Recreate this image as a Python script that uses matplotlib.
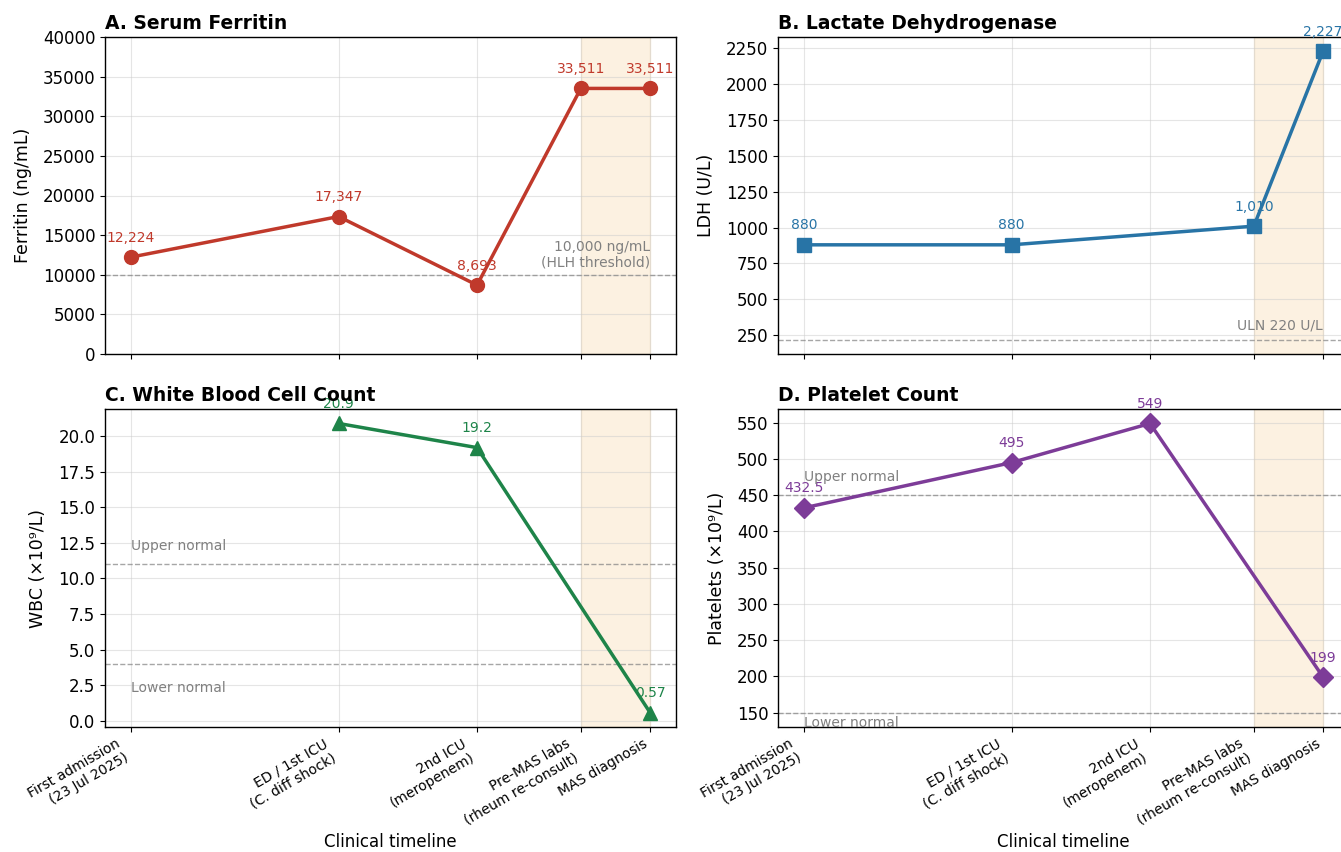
import numpy as np
import matplotlib
matplotlib.use("Agg")
import matplotlib.pyplot as plt

# timeline (position on x axis + labels)
x_pos = [0, 3, 5, 6.5, 7.5]
x_labels = ["First admission\n(23 Jul 2025)", "ED / 1st ICU\n(C. diff shock)",
            "2nd ICU\n(meropenem)", "Pre-MAS labs\n(rheum re-consult)", "MAS diagnosis"]

# lab values (nan = not measured)
ferritin = [12224, 17347, 8693, 33511, 33511]
ldh = [880, 880, np.nan, 1010, 2227]
wbc = [np.nan, 20.9, 19.2, np.nan, 0.57]
platelets = [432.5, 495, 549, np.nan, 199]

plt.rcParams["font.family"] = "DejaVu Sans"
plt.rcParams["axes.linewidth"] = 1.0

fig = plt.figure(figsize=(13.41, 8.52), dpi=100)
W, H = 1341, 852
def box(l, t, r, b):
    return [l / W, (H - b) / H, (r - l) / W, (b - t) / H]

axA = fig.add_axes(box(105, 37, 676, 354))
axB = fig.add_axes(box(778, 37, 1349, 354))
axC = fig.add_axes(box(105, 409, 676, 727), sharex=axA)
axD = fig.add_axes(box(778, 409, 1349, 727), sharex=axB)


def fmt(v):
    if float(v).is_integer():
        return f"{int(v):,}"
    return f"{v:g}"


def panel(ax, vals, color, marker, title, ylabel, ms=10):
    xs = np.array(x_pos, dtype=float)
    ys = np.array(vals, dtype=float)
    ok = ~np.isnan(ys)
    ax.axvspan(6.5, 7.5, color="#f0a030", alpha=0.14, zorder=0)
    ax.plot(xs[ok], ys[ok], color=color, marker=marker, lw=2.5, ms=ms, zorder=3)
    for x, y in zip(xs[ok], ys[ok]):
        ax.annotate(fmt(y), (x, y), xytext=(0, 9), textcoords="offset points",
                    ha="center", va="bottom", fontsize=10, color=color)
    ax.set_title(title, loc="left", fontsize=13.5, fontweight="bold")
    ax.set_ylabel(ylabel, fontsize=12.5, labelpad=8)
    ax.grid(True, color="#cccccc", alpha=0.5, lw=0.8)
    ax.set_axisbelow(True)
    ax.tick_params(axis="y", labelsize=12)
    ax.set_xticks(x_pos)


def ref(ax, y):
    ax.axhline(y, color="gray", ls="--", lw=1, alpha=0.7, zorder=1)


# A. ferritin
panel(axA, ferritin, "#c0392b", "o", "A. Serum Ferritin", "Ferritin (ng/mL)")
ref(axA, 10000)
axA.set_ylim(0, 40000)
axA.text(7.5, 10600, "10,000 ng/mL\n(HLH threshold)", ha="right", va="bottom",
         fontsize=10, color="gray")

# B. LDH
panel(axB, ldh, "#2874a6", "s", "B. Lactate Dehydrogenase", "LDH (U/L)")
ref(axB, 220)
axB.text(7.5, 270, "ULN 220 U/L", ha="right", va="bottom", fontsize=10, color="gray")

# C. WBC
panel(axC, wbc, "#1e8449", "^", "C. White Blood Cell Count", "WBC (×10⁹/L)")
ref(axC, 11)
ref(axC, 4)
axC.text(0, 11.8, "Upper normal", ha="left", va="bottom", fontsize=10, color="gray")
axC.text(0, 2.3, "Lower normal", ha="left", va="center", fontsize=10, color="gray")

# D. platelets
panel(axD, platelets, "#7d3c98", "D", "D. Platelet Count", "Platelets (×10⁹/L)")
ref(axD, 450)
ref(axD, 150)
axD.text(0, 465, "Upper normal", ha="left", va="bottom", fontsize=10, color="gray")
axD.text(0, 135, "Lower normal", ha="left", va="center", fontsize=10, color="gray")

for ax in (axA, axB):
    plt.setp(ax.get_xticklabels(), visible=False)
for ax in (axC, axD):
    ax.set_xticks(x_pos)
    ax.set_xticklabels(x_labels, rotation=30, ha="right", fontsize=10)
    ax.set_xlabel("Clinical timeline", fontsize=12)

fig.savefig("out.png", dpi=100)
